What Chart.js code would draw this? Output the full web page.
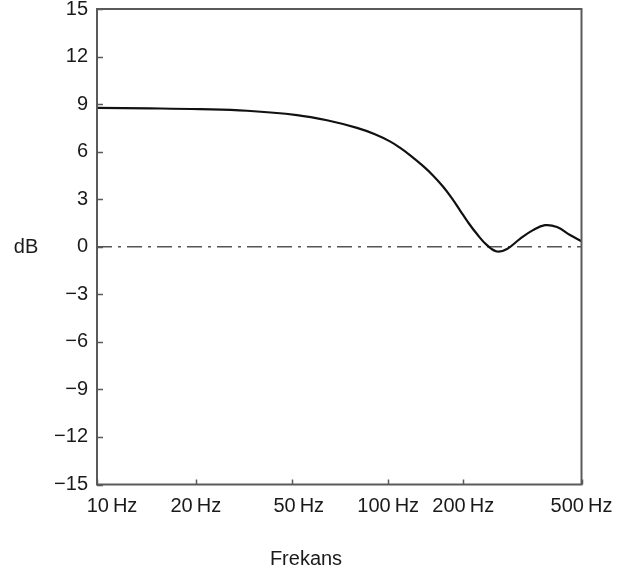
<!DOCTYPE html>
<html>
<head>
<meta charset="utf-8">
<style>
  html, body { margin: 0; padding: 0; background: #fff; }
  #wrap { width: 617px; height: 574px; }
</style>
</head>
<body>
<div id="wrap"><canvas id="myChart"></canvas></div>

<script src="https://cdn.jsdelivr.net/npm/chart.js"></script>
<script>
	// frequency axis ticks (Hz) and where each sits along the axis (0..100)
	const tickHz = [10, 20, 50, 100, 200, 500]
	const tickPos = [0, 20.4, 40.2, 60.1, 75.6, 100]
	// leading en/thin spaces nudge the 10 Hz and 50 Hz labels right of their ticks
	const tickLabels = ['\u2002\u2002\u200210\u2009Hz', '20\u2009Hz', '\u2002\u200950\u2009Hz', '100\u2009Hz', '200\u2009Hz', '500\u2009Hz']

	// response curve
	const freqHz = [10, 14.5, 20.8, 32.6, 51.9, 64.4, 79.9, 90.9, 101.6, 111.4, 122.2, 137.8, 151.2, 165.8,
		180.2, 194, 207.4, 222.4, 240.3, 259.7, 280.7, 310.4, 343.3, 376.8, 413.5, 457.4, 500]
	const gainDb = [8.76, 8.73, 8.68, 8.58, 8.31, 7.98, 7.5, 7.1, 6.65, 6.25, 5.78, 5.1, 4.5, 3.8,
		3.05, 2.3, 1.55, 0.8, 0.1, -0.3, -0.14, 0.5, 1.05, 1.36, 1.24, 0.74, 0.35]

	// 0 dB reference
	const refHz = [10, 500]
	const refDb = [0, 0]

	const FONT = "'Liberation Sans', Arial, Helvetica, sans-serif"
	const frameColor = '#5a5a5a'

	// map a frequency onto the axis, log-interpolated between the tick marks
	function hzToAxis(f) {
		for (let i = 0; i < tickHz.length - 1; i++) {
			if (f <= tickHz[i + 1]) {
				const t = Math.log(f / tickHz[i]) / Math.log(tickHz[i + 1] / tickHz[i])
				return tickPos[i] + t * (tickPos[i + 1] - tickPos[i])
			}
		}
		return tickPos[tickPos.length - 1]
	}

	const minus = v => String(v).replace('-', '\u2212')

	// box around the plot, short inward ticks, and the two axis titles
	const frame = {
		id: 'frame',
		afterDatasetsDraw(chart) {
			const { ctx, chartArea: a, scales } = chart
			ctx.save()
			ctx.strokeStyle = frameColor
			ctx.lineWidth = 2
			ctx.strokeRect(a.left, a.top, a.right - a.left, a.bottom - a.top)

			ctx.lineWidth = 1.5
			ctx.beginPath()
			scales.y.ticks.forEach(t => {
				const y = Math.round(scales.y.getPixelForValue(t.value)) + 0.5
				ctx.moveTo(a.left, y)
				ctx.lineTo(a.left + 6, y)
			})
			scales.x.ticks.forEach(t => {
				const x = Math.round(scales.x.getPixelForValue(t.value)) + 0.5
				ctx.moveTo(x, a.bottom)
				ctx.lineTo(x, a.bottom - 5)
			})
			ctx.stroke()

			ctx.fillStyle = '#1a1a1a'
			ctx.font = '20px ' + FONT
			ctx.textAlign = 'center'
			ctx.textBaseline = 'middle'
			ctx.fillText('dB', 26, scales.y.getPixelForValue(0) + 1)
			ctx.fillText('Frekans', 306, 559)
			ctx.restore()
		}
	}

	new Chart(document.getElementById('myChart'), {
		type: 'line',
		data: {
			datasets: [{
				data: freqHz.map((f, i) => ({ x: hzToAxis(f), y: gainDb[i] })),
				borderColor: '#111',
				borderWidth: 2.2,
				pointRadius: 0,
				tension: 0.4,
				order: 0
			}, {
				data: refHz.map((f, i) => ({ x: hzToAxis(f), y: refDb[i] })),
				borderColor: '#555',
				borderWidth: 1.5,
				borderDash: [15, 6, 3, 6],
				pointRadius: 0,
				order: 1
			}]
		},
		options: {
			responsive: true,
			maintainAspectRatio: false,
			animation: false,
			layout: { padding: { top: 9, right: 35.5, left: 0, bottom: 0 } },
			plugins: { legend: { display: false }, tooltip: { enabled: false } },
			scales: {
				x: {
					type: 'linear',
					min: 0,
					max: 100,
					grid: { display: false, drawTicks: false },
					border: { display: false },
					afterBuildTicks: scale => { scale.ticks = tickPos.map(v => ({ value: v })) },
					afterFit: scale => {
						scale.height = 89.5
						scale.paddingLeft = 0
						scale.paddingRight = 0
					},
					ticks: {
						autoSkip: false,
						maxRotation: 0,
						padding: 10,
						color: '#1a1a1a',
						font: { family: FONT, size: 20 },
						callback: (v, i) => tickLabels[i]
					}
				},
				y: {
					min: -15,
					max: 15,
					grid: { display: false, drawTicks: false },
					border: { display: false },
					afterFit: scale => {
						scale.width = 97
						scale.paddingTop = 0
						scale.paddingBottom = 0
					},
					ticks: {
						stepSize: 3,
						padding: 9,
						color: '#1a1a1a',
						font: { family: FONT, size: 20 },
						callback: v => minus(v)
					}
				}
			}
		},
		plugins: [frame]
	})
</script>
</body>
</html>
